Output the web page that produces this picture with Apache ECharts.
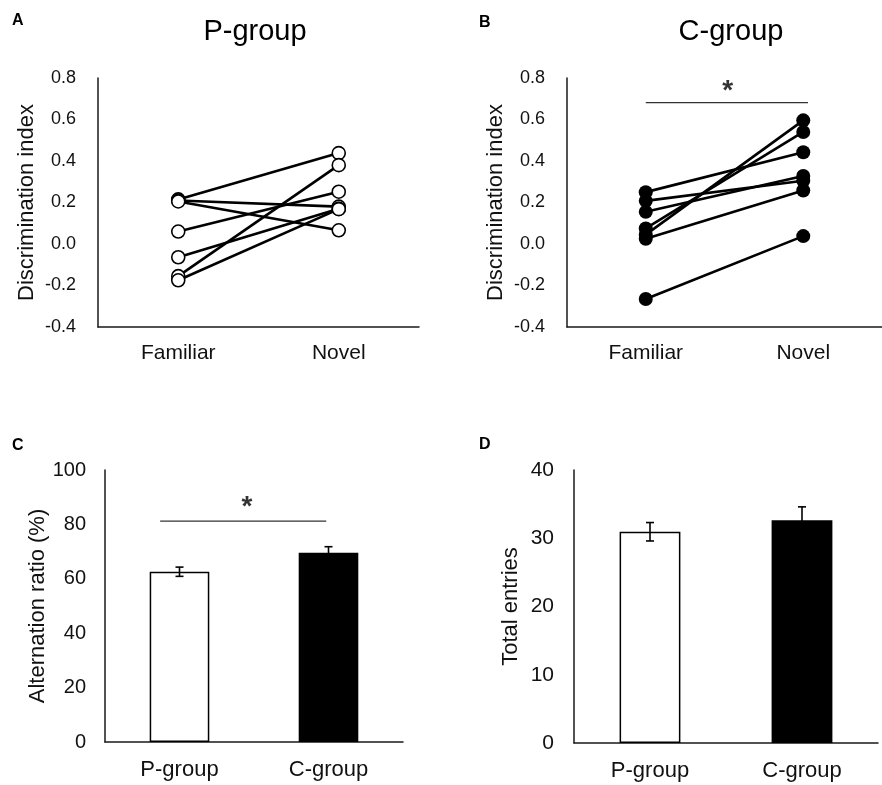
<!DOCTYPE html>
<html>
<head>
<meta charset="utf-8">
<script src="https://cdn.jsdelivr.net/npm/echarts@6/dist/echarts.min.js"></script>
<style>
html,body{margin:0;padding:0;background:#fff;}
#chart{width:882px;height:785px;}
</style>
</head>
<body>
<div id="chart"></div>
<script>
// ---- Data ----
var discCategories = ['Familiar', 'Novel'];
var groupCategories = ['P-group', 'C-group'];
var discTicks = [-0.4, -0.2, 0.0, 0.2, 0.4, 0.6, 0.8];

// Panel A (P-group): each subject's familiar / novel discrimination index
var pFamiliar = [0.215, 0.21, 0.205, 0.060, -0.064, -0.155, -0.175];
var pNovel    = [0.438, 0.180, 0.066, 0.252, 0.170, 0.380, 0.168];

// Panel B (C-group)
var cFamiliar = [0.250, 0.208, 0.155, 0.075, 0.045, 0.025, -0.265];
var cNovel    = [0.442, 0.305, 0.328, 0.540, 0.596, 0.258, 0.038];

// Significance annotation, panel B (value-axis positions 0..2, y value)
var sigB = {x1: 0.5, x2: 1.53, y: 0.681, starX: 1.02};

// Panel C: alternation ratio (%)
var altMean = [62.6, 69.6];
var altSem  = [1.7, 2.2];
var sigC = {x1: 0.37, x2: 1.485, y: 81.2, starX: 0.953};

// Panel D: total entries
var entMean = [30.95, 32.65];
var entSem  = [1.35, 1.95];

var barColors = ['#ffffff', '#000000'];
var FONT = '"Liberation Sans", Arial, Helvetica, sans-serif';

var chart = echarts.init(document.getElementById('chart'), null, {renderer: 'canvas'});

function catAxis(gi, data, fs, margin) {
  return {
    type: 'category', gridIndex: gi, data: data, boundaryGap: true,
    axisLine: {show: true, onZero: false, lineStyle: {color: '#1a1a1a', width: 1.5}},
    axisTick: {show: false},
    axisLabel: {fontFamily: FONT, fontSize: fs, color: '#111', margin: margin},
    splitLine: {show: false}
  };
}
function valAxis(gi, min, max, interval, fs, name, nameGap, fmt, margin) {
  return {
    type: 'value', gridIndex: gi, min: min, max: max, interval: interval,
    name: name, nameLocation: 'middle', nameGap: nameGap, nameRotate: 90,
    nameTextStyle: {fontFamily: FONT, fontSize: 22, color: '#111'},
    axisLine: {show: true, onZero: false, lineStyle: {color: '#1a1a1a', width: 1.5}},
    axisTick: {show: false},
    axisLabel: {fontFamily: FONT, fontSize: fs, color: '#111', margin: margin, formatter: fmt},
    splitLine: {show: false}
  };
}
function hiddenX(gi) {
  return {type: 'value', gridIndex: gi, min: 0, max: 2, show: false};
}

var series = [];
function addPairs(fam, nov, xi, yi, filled) {
  for (var i = 0; i < fam.length; i++) {
    series.push({
      type: 'line', xAxisIndex: xi, yAxisIndex: yi,
      data: [fam[i], nov[i]], showSymbol: false, silent: true,
      lineStyle: {color: '#000', width: 2.6}, z: 2
    });
  }
  var pts = [];
  for (var j = 0; j < fam.length; j++) {
    pts.push([discCategories[0], fam[j]]);
    pts.push([discCategories[1], nov[j]]);
  }
  series.push({
    type: 'scatter', xAxisIndex: xi, yAxisIndex: yi, data: pts,
    symbol: 'circle', symbolSize: filled ? 14 : 13, z: 3,
    itemStyle: {color: filled ? '#000' : '#fff', borderColor: '#000', borderWidth: filled ? 0 : 1.6, opacity: 1}
  });
}
addPairs(pFamiliar, pNovel, 0, 0, false);
addPairs(cFamiliar, cNovel, 1, 1, true);

function addSig(sig, xi, yi, starGap) {
  series.push({
    type: 'line', xAxisIndex: xi, yAxisIndex: yi,
    data: [[sig.x1, sig.y], [sig.x2, sig.y]], showSymbol: false, silent: true,
    lineStyle: {color: '#333', width: 1.3}
  });
  series.push({
    type: 'scatter', xAxisIndex: xi, yAxisIndex: yi,
    data: [[sig.starX, sig.y]], symbolSize: 0, silent: true,
    label: {show: true, position: 'top', distance: starGap, formatter: '*',
      fontFamily: FONT, fontSize: 28, fontWeight: 'bold', color: '#000'}
  });
}
addSig(sigB, 4, 1, -3);
addSig(sigC, 5, 2, 0);

function addBars(mean, sem, xi, yi) {
  series.push({
    type: 'bar', xAxisIndex: xi, yAxisIndex: yi, barWidth: '40%', z: 2,
    data: mean.map(function (v, i) {
      return {value: v, itemStyle: {color: barColors[i], borderColor: '#000', borderWidth: 1.5}};
    })
  });
  series.push({
    type: 'custom', xAxisIndex: xi, yAxisIndex: yi, z: 5,
    data: mean.map(function (v, i) { return [i, v, sem[i]]; }),
    renderItem: function (params, api) {
      var idx = api.value(0), m = api.value(1), s = api.value(2);
      var top = api.coord([idx, m + s]);
      var bot = api.coord([idx, m - s]);
      var hw = 4;
      var st = {stroke: '#000', lineWidth: 1.6};
      return {
        type: 'group', children: [
          {type: 'line', shape: {x1: top[0], y1: top[1], x2: bot[0], y2: bot[1]}, style: st},
          {type: 'line', shape: {x1: top[0] - hw, y1: top[1], x2: top[0] + hw, y2: top[1]}, style: st},
          {type: 'line', shape: {x1: bot[0] - hw, y1: bot[1], x2: bot[0] + hw, y2: bot[1]}, style: st}
        ]
      };
    }
  });
}
addBars(altMean, altSem, 2, 2);
addBars(entMean, entSem, 3, 3);

function txt(text, x, y, size, weight, align) {
  return {type: 'text', x: x, y: y, silent: true,
    style: {text: text, fontFamily: FONT, fontSize: size, fontWeight: weight || 'normal',
      fill: '#000', textAlign: align || 'left', textVerticalAlign: 'middle'}};
}

var option = {
  backgroundColor: '#ffffff',
  animation: false,
  grid: [
    {left: 98, top: 78, width: 321, height: 249},
    {left: 567, top: 78, width: 324, height: 249},
    {left: 105, top: 470, width: 298, height: 272},
    {left: 574, top: 470, width: 304, height: 273}
  ],
  xAxis: [
    catAxis(0, discCategories, 21, 16),
    catAxis(1, discCategories, 21, 16),
    catAxis(2, groupCategories, 22, 17),
    catAxis(3, groupCategories, 22, 17),
    hiddenX(1),
    hiddenX(2)
  ],
  yAxis: [
    valAxis(0, discTicks[0], discTicks[discTicks.length - 1], 0.2, 18, 'Discrimination index', 60, function (v) { return v.toFixed(1); }, 22),
    valAxis(1, discTicks[0], discTicks[discTicks.length - 1], 0.2, 18, 'Discrimination index', 60, function (v) { return v.toFixed(1); }, 22),
    valAxis(2, 0, 100, 20, 20, 'Alternation ratio (%)', 56, null, 19),
    valAxis(3, 0, 40, 10, 21, 'Total entries', 52, null, 20)
  ],
  series: series,
  graphic: [
    txt('P-group', 255, 32, 29, 'normal', 'center'),
    txt('C-group', 731, 32, 29, 'normal', 'center'),
    txt('A', 12, 21, 16, 'bold'),
    txt('B', 479, 23, 16, 'bold'),
    txt('C', 12, 446, 16, 'bold'),
    txt('D', 479, 445, 16, 'bold')
  ]
};
chart.setOption(option);
</script>
</body>
</html>
